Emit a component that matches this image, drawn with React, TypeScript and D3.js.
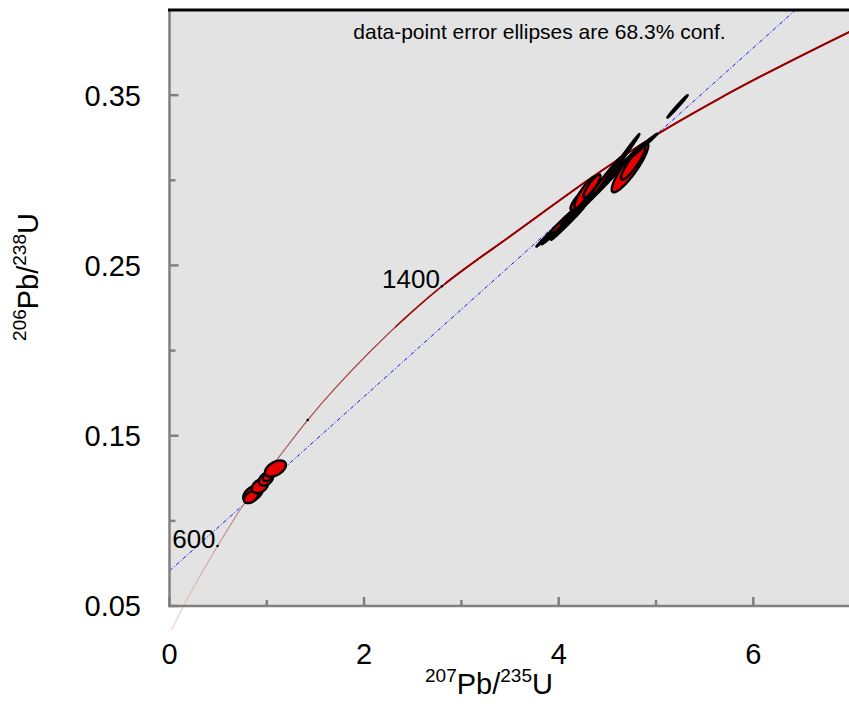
import React from 'react';
import * as d3 from 'd3';

const W = 849;
const H = 717;
const FONT = "'Liberation Sans', Arial, Helvetica, sans-serif";

// Concordia trace: 207Pb/235U (x) and 206Pb/238U (y)
const concordiaX = [0.021, 0.134, 0.494, 0.792, 1.101, 1.42, 2.058, 2.52, 2.8, 3.19, 3.4, 4.4, 5.0, 5.65, 7.0];
const concordiaY = [0.0359, 0.0488, 0.0852, 0.1122, 0.1357, 0.1592, 0.1992, 0.2242, 0.2378, 0.2545, 0.263, 0.304, 0.3266, 0.348, 0.3875];

// Age ticks on the concordia (Ma)
const ageTickMa = [600, 1000, 1400];
const ageTickX = [0.494, 1.42, 2.8];
const ageTickY = [0.0852, 0.1592, 0.2378];
const labelledAges = [600, 1400];

// Discordia regression line: y = intercept + slope * x
const discordiaIntercept = 0.0706;
const discordiaSlope = 0.0512;

// Analyses: 207Pb/235U ± sx, 206Pb/238U ± sy, error correlation (drawing order)
const ellipseX = [
  0.858, 0.838, 0.93, 0.992, 1.012, 1.089,
  4.039, 4.008, 4.065, 4.09, 4.08, 4.25, 4.219, 4.27,
  4.219, 4.281, 4.342, 4.409, 4.491, 4.476,
  4.733, 4.764, 4.613, 4.8, 5.221,
];
const ellipseSX = [
  0.1002, 0.0735, 0.0837, 0.0728, 0.0524, 0.1077,
  0.2682, 0.1828, 0.1674, 0.1674, 0.1837, 0.1676, 0.1985, 0.1989,
  0.0977, 0.1196, 0.0877, 0.2344, 0.2139, 0.1691,
  0.188, 0.1238, 0.2168, 0.2137, 0.104,
];
const ellipseY = [
  0.1161, 0.114, 0.1205, 0.1246, 0.1263, 0.1307,
  0.2758, 0.2717, 0.2761, 0.2746, 0.2775, 0.2866, 0.2843, 0.2858,
  0.289, 0.2931, 0.2966, 0.2966, 0.2987, 0.3013,
  0.3075, 0.3101, 0.31, 0.3169, 0.3434,
];
const ellipseSY = [
  0.00485, 0.00361, 0.00419, 0.0039, 0.00299, 0.00473,
  0.01475, 0.00931, 0.00957, 0.00957, 0.00993, 0.00906, 0.01076, 0.01223,
  0.00648, 0.0093, 0.00683, 0.01482, 0.01279, 0.01247,
  0.01456, 0.00974, 0.01715, 0.01051, 0.0066,
];
const ellipseRho = [
  0.46, 0.42, 0.36, 0.35, 0.38, 0.46,
  0.9977, 0.9945, 0.995, 0.995, 0.984, 0.991, 0.996, 0.9966,
  0.845, 0.857, 0.87, 0.9975, 0.997, 0.99,
  0.886, 0.89, 0.997, 0.996, 0.993,
];

const xTicksMajor = [0, 2, 4, 6];
const xTicksMinor = [1, 3, 5];
const yTicksMajor = [0.05, 0.15, 0.25, 0.35];
const yTicksMinor = [0.1, 0.2, 0.3];

const xDomain = [0, 7];
const yDomain = [0.05, 0.4];

export default function App() {
  const x = d3.scaleLinear().domain(xDomain).range([169.5, 850.6]);
  const y = d3.scaleLinear().domain(yDomain).range([606, 10]);

  const left = x(0);
  const bottom = y(0.05);
  const top = y(0.4);

  const curvePts: [number, number][] = concordiaX.map((v, i) => [v, concordiaY[i]]);
  const curveLine = d3
    .line<[number, number]>()
    .x((d) => x(d[0]))
    .y((d) => y(d[1]))
    .curve(d3.curveMonotoneX);
  const curvePath = curveLine(curvePts) || '';

  const discX = [0, xDomain[1]];
  const discPath =
    d3
      .line<number>()
      .x((d) => x(d))
      .y((d) => y(discordiaIntercept + discordiaSlope * d))(discX) || '';

  const ellipseLine = d3
    .line<[number, number]>()
    .x((d) => x(d[0]))
    .y((d) => y(d[1]))
    .curve(d3.curveLinearClosed);
  const steps = d3.range(0, 120).map((k) => (k / 120) * Math.PI * 2);
  const ellipsePaths = ellipseX.map((cx, i) => {
    const sx = ellipseSX[i];
    const sy = ellipseSY[i];
    const r = ellipseRho[i];
    const q = Math.sqrt(1 - r * r);
    const pts: [number, number][] = steps.map((t) => [
      cx + sx * Math.cos(t),
      ellipseY[i] + sy * (r * Math.cos(t) + q * Math.sin(t)),
    ]);
    return ellipseLine(pts) || '';
  });

  const axisGrey = '#7f7f7f';

  return (
    <div>
      <style>{'body{margin:0;}'}</style>
      <svg width={W} height={H} style={{ display: 'block', background: '#ffffff' }} fontFamily={FONT}>
        <defs>
          <clipPath id="plotClip">
            <rect x={left} y={top} width={W - left} height={bottom - top} />
          </clipPath>
          <clipPath id="midCurveClip">
            <rect x={395} y={0} width={W - 395} height={H} />
          </clipPath>
          <clipPath id="upperCurveClip">
            <rect x={445} y={0} width={W - 445} height={H} />
          </clipPath>
          <linearGradient id="curveGrad" gradientUnits="userSpaceOnUse" x1={172} y1={630} x2={450} y2={285}>
            <stop offset="0" stopColor="#f2d0d0" />
            <stop offset="0.3" stopColor="#c27c7c" />
            <stop offset="0.6" stopColor="#a43a3a" />
            <stop offset="1" stopColor="#990000" />
          </linearGradient>
        </defs>

        {/* plot background */}
        <rect x={left} y={top} width={W - left} height={bottom - top} fill="#e3e3e3" />

        {/* discordia */}
        <path
          d={discPath}
          clipPath="url(#plotClip)"
          fill="none"
          stroke="#1010f0"
          strokeWidth={1}
          strokeDasharray="4 2 1 2"
        />

        {/* concordia, heavier toward older ages */}
        <path d={curvePath} fill="none" stroke="url(#curveGrad)" strokeWidth={1.1} />
        <path d={curvePath} clipPath="url(#midCurveClip)" fill="none" stroke="#9a1010" strokeWidth={1.5} />
        <path d={curvePath} clipPath="url(#upperCurveClip)" fill="none" stroke="#990000" strokeWidth={2} />

        {/* error ellipses */}
        {ellipsePaths.map((d, i) => (
          <path key={i} d={d} fill="#e60000" stroke="#000000" strokeWidth={2.4} strokeLinejoin="round" />
        ))}

        {/* age ticks */}
        {ageTickMa.map((age, i) => (
          <g key={age}>
            <circle cx={x(ageTickX[i])} cy={y(ageTickY[i])} r={1.3} fill="#000000" />
            {labelledAges.includes(age) && (
              <text
                x={x(ageTickX[i]) - 2}
                y={y(ageTickY[i]) + 1.5}
                textAnchor="end"
                fontSize={26}
                fill="#000000"
              >
                {age}
              </text>
            )}
          </g>
        ))}

        {/* ticks */}
        {yTicksMajor.map((v) => (
          <line key={'ym' + v} x1={left} x2={left + 9} y1={y(v)} y2={y(v)} stroke={axisGrey} strokeWidth={2.5} />
        ))}
        {yTicksMinor.map((v) => (
          <line key={'yn' + v} x1={left} x2={left + 6} y1={y(v)} y2={y(v)} stroke={axisGrey} strokeWidth={2.5} />
        ))}
        {xTicksMajor.map((v) => (
          <line key={'xm' + v} x1={x(v)} x2={x(v)} y1={bottom} y2={bottom - 9} stroke={axisGrey} strokeWidth={2.5} />
        ))}
        {xTicksMinor.map((v) => (
          <line key={'xn' + v} x1={x(v)} x2={x(v)} y1={bottom} y2={bottom - 6} stroke={axisGrey} strokeWidth={2.5} />
        ))}

        {/* frame */}
        <line x1={left} x2={left} y1={top} y2={bottom + 1.2} stroke={axisGrey} strokeWidth={2.5} />
        <line x1={left - 1.2} x2={W} y1={bottom} y2={bottom} stroke={axisGrey} strokeWidth={2.5} />
        <line x1={left - 1.5} x2={W} y1={top} y2={top} stroke="#000000" strokeWidth={3} />

        {/* tick labels */}
        {yTicksMajor.map((v) => (
          <text key={'yl' + v} x={141} y={y(v)} dy="0.36em" textAnchor="end" fontSize={29} fill="#000000">
            {d3.format('.2f')(v)}
          </text>
        ))}
        {xTicksMajor.map((v) => (
          <text key={'xl' + v} x={x(v)} y={664} textAnchor="middle" fontSize={29} fill="#000000">
            {d3.format('d')(v)}
          </text>
        ))}

        {/* axis titles */}
        <text x={489} y={694} textAnchor="middle" fontSize={29} fill="#000000">
          <tspan fontSize={19} dy={-12}>207</tspan>
          <tspan dy={12}>Pb/</tspan>
          <tspan fontSize={19} dy={-12}>235</tspan>
          <tspan dy={12}>U</tspan>
        </text>
        <text transform="translate(38,277) rotate(-90)" textAnchor="middle" fontSize={29} fill="#000000">
          <tspan fontSize={19} dy={-12}>206</tspan>
          <tspan dy={12}>Pb/</tspan>
          <tspan fontSize={19} dy={-12}>238</tspan>
          <tspan dy={12}>U</tspan>
        </text>

        {/* annotation */}
        <text x={539.5} y={39} textAnchor="middle" fontSize={21} fill="#000000">
          data-point error ellipses are 68.3% conf.
        </text>
      </svg>
    </div>
  );
}
